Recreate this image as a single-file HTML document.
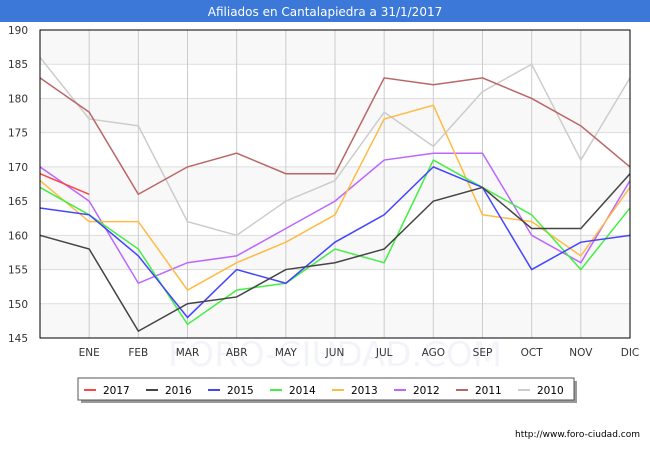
<!DOCTYPE html>
<html><head><meta charset="utf-8"><style>
body{margin:0;width:650px;height:450px;background:#fff;font-family:"DejaVu Sans","Liberation Sans",sans-serif;overflow:hidden}
</style></head><body>
<svg width="650" height="450" id="c" xmlns="http://www.w3.org/2000/svg" font-family="DejaVu Sans, Liberation Sans, sans-serif">
<rect x="0" y="0" width="650" height="22" fill="#3b78d8"/>
<text x="325" y="16" text-anchor="middle" fill="#fff" font-size="12">Afiliados en Cantalapiedra a 31/1/2017</text>
<g id="plot"></g>
<text x="640" y="437" text-anchor="end" font-size="9" fill="#000">http://www.foro-ciudad.com</text>
</svg>
<script>
const months=["","ENE","FEB","MAR","ABR","MAY","JUN","JUL","AGO","SEP","OCT","NOV","DIC"];
const yTicks=[145,150,155,160,165,170,175,180,185,190];
const seriesNames=["2017","2016","2015","2014","2013","2012","2011","2010"];
const seriesColors=["#ff4444","#444444","#4444ff","#44ee44","#ffbb44","#bb66ff","#bb6666","#cccccc"];
const s2017=[169,166];
const s2016=[160,158,146,150,151,155,156,158,165,167,161,161,169];
const s2015=[164,163,157,148,155,153,159,163,170,167,155,159,160];
const s2014=[167,163,158,147,152,153,158,156,171,167,163,155,164];
const s2013=[168,162,162,152,156,159,163,177,179,163,162,157,167];
const s2012=[170,165,153,156,157,161,165,171,172,172,160,156,168];
const s2011=[183,178,166,170,172,169,169,183,182,183,180,176,170];
const s2010=[186,177,176,162,160,165,168,178,173,181,185,171,183];
const allSeries=[s2017,s2016,s2015,s2014,s2013,s2012,s2011,s2010];
const L=40,R=630,T=30,B=338,yMin=145,yMax=190;
const xs=i=>L+i*(R-L)/(months.length-1);
const ys=v=>B-(v-yMin)*(B-T)/(yMax-yMin);
const NS="http://www.w3.org/2000/svg";
const g=document.getElementById('plot');
function mk(t,a,p){const e=document.createElementNS(NS,t);for(const k in a)e.setAttribute(k,a[k]);(p||g).appendChild(e);return e;}
const wm=mk('text',{x:335,y:366,'text-anchor':'middle','font-size':34,fill:'#f3f4fa'});
wm.textContent='FORO-CIUDAD.COM';


for(let i=0;i<yTicks.length-1;i++){
  const r=mk('rect',{x:L,y:ys(yTicks[i+1]),width:R-L,height:ys(yTicks[i])-ys(yTicks[i+1]),fill:i%2===0?'#f8f8f8':'#ffffff'});
  
  
}
yTicks.forEach(v=>{
  const l=mk('line',{x1:L,x2:R,y1:ys(v),y2:ys(v),stroke:'#dddddd'});
  
  
  const t=mk('text',{x:L-12,y:ys(v)+4,'text-anchor':'end','font-size':10.5,fill:'#333'});
  t.textContent=v;
  
  
});
months.forEach((m,i)=>{
  if(i>0){const l=mk('line',{x1:xs(i),x2:xs(i),y1:T,y2:B,stroke:'#cccccc'});
  
  }
  const t=mk('text',{x:xs(i),y:B+18,'text-anchor':'middle','font-size':10.5,fill:'#333'});
  t.textContent=m;
  
  
});
for(let k=allSeries.length-1;k>=0;k--){
  const pts=allSeries[k].map((v,i)=>xs(i)+','+ys(v)).join(' ');
  const p=mk('polyline',{points:pts,fill:'none',stroke:seriesColors[k],'stroke-width':1.5});
  
  
}
const fr=mk('rect',{x:L,y:T,width:R-L,height:B-T,fill:'none',stroke:'#000'});


const lg=mk('g',{});


mk('rect',{x:81,y:381,width:496,height:22,fill:'#999'},lg);
mk('rect',{x:78,y:378,width:496,height:22,fill:'#fff',stroke:'#555'},lg);
seriesNames.forEach((n,k)=>{
  const x0=84+k*62;
  const e=mk('g',{},lg);
  
  
  mk('line',{x1:x0,x2:x0+12,y1:390,y2:390,stroke:seriesColors[k],'stroke-width':2},e);
  const t=mk('text',{x:x0+19,y:394,'font-size':10.5,fill:'#000'},e);
  t.textContent=n;
});
</script>
</body></html>
